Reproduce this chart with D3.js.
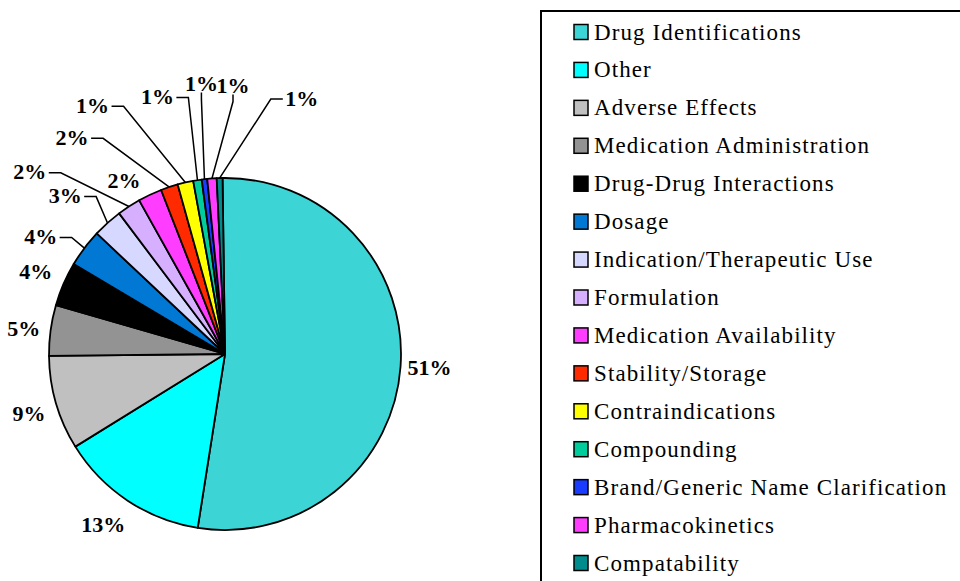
<!DOCTYPE html>
<html>
<head>
<meta charset="utf-8">
<script src="https://cdn.jsdelivr.net/npm/d3@7"></script>
<style>
  body { margin: 0; background: #fff; }
  svg { display: block; }
  .pct { font-family: "Liberation Serif", "Times New Roman", serif; font-weight: bold; font-size: 22px; }
  .leg { font-family: "Liberation Serif", "Times New Roman", serif; font-size: 23px; letter-spacing: 1.1px; }
</style>
</head>
<body>
<svg id="chart" width="960" height="581"></svg>
<script>
var categories = ["Drug Identifications", "Other", "Adverse Effects", "Medication Administration",
  "Drug-Drug Interactions", "Dosage", "Indication/Therapeutic Use", "Formulation",
  "Medication Availability", "Stability/Storage", "Contraindications", "Compounding",
  "Brand/Generic Name Clarification", "Pharmacokinetics", "Compatability"];
// slice sizes (share of the circle, %)
var shares = [52.7, 13.7, 8.65, 4.65, 4.06, 3.47, 2.72, 2.17, 2.19, 1.58, 1.44, 0.78, 0.5, 0.86, 0.53];
// percentages printed next to the slices
var pctLabels = ["51%", "13%", "9%", "5%", "4%", "4%", "3%", "2%", "2%", "2%", "1%", "1%", "1%", "1%", "1%"];
var colors = ["#3cd4d4", "#00ffff", "#bfc0bf", "#939393", "#000000", "#0078d4", "#d7d8ff", "#d6b0ff",
  "#ff3dff", "#ff2a00", "#ffff00", "#00cc9c", "#1a3cff", "#ff3dff", "#008c8c"];

// label nudges from the default spot [dx, dy, leader line?]
var labelShift = [[3, -1, 0], [-10, 2, 0], [-2, 3, 0], [-1, 2, 0], [-4, -2, 0], [-23, 4, 1],
  [-25, -8, 1], [-85, -13, 1], [-15, 9, 0], [-89, -25, 1], [-87, -52, 1], [-36, -58, 1],
  [0, -70, 1], [23, -67, 1], [83, -54, 1]];

var svg = d3.select("#chart");
var cx = 225, cy = 354, r = 176;

var pie = d3.pie().sort(null).value(function(d) { return d; })
  .startAngle(-0.8 * Math.PI / 180)
  .endAngle(2 * Math.PI - 0.8 * Math.PI / 180);
var arcs = pie(shares);
var arc = d3.arc().innerRadius(0).outerRadius(r);

var pieG = svg.append("g").attr("transform", "translate(" + cx + "," + cy + ")");

pieG.selectAll("path")
  .data(arcs)
  .enter().append("path")
    .attr("d", arc)
    .attr("fill", function(d, i) { return colors[i]; })
    .attr("stroke", "#000")
    .attr("stroke-width", 1.8)
    .attr("stroke-linejoin", "round");

function polar(a, rad) { return [rad * Math.sin(a), -rad * Math.cos(a)]; }

var labels = arcs.map(function(d, i) {
  var mid = (d.startAngle + d.endAngle) / 2;
  var p = polar(mid, r + 26);
  return { x: p[0] + labelShift[i][0], y: p[1] + labelShift[i][1], anchor: polar(mid, r), leader: labelShift[i][2], text: pctLabels[i] };
});

/* leader lines */
pieG.selectAll("polyline")
  .data(labels.filter(function(d) { return d.leader; }))
  .enter().append("polyline")
    .attr("fill", "none")
    .attr("stroke", "#000")
    .attr("stroke-width", 1.5)
    .attr("points", function(d) {
      var hw = 16, ax = d.anchor[0], ay = d.anchor[1], s, e;
      if (Math.abs(ax - d.x) < hw + 10) {
        s = [d.x, d.y + 9]; e = [d.x, d.y + 16];
      } else {
        var side = ax > d.x ? 1 : -1;
        s = [d.x + side * (hw + 3), d.y + 1]; e = [s[0] + side * 12, d.y + 1];
      }
      return [s, e, [ax, ay]].map(function(p) { return p.join(","); }).join(" ");
    });

pieG.selectAll("text")
  .data(labels)
  .enter().append("text")
    .attr("class", "pct")
    .attr("x", function(d) { return d.x; })
    .attr("y", function(d) { return d.y + 7.5; })
    .attr("text-anchor", "middle")
    .text(function(d) { return d.text; });

/* legend */
var legG = svg.append("g");
legG.append("rect")
  .attr("x", 541).attr("y", 11).attr("width", 500).attr("height", 700)
  .attr("fill", "#fff").attr("stroke", "#000").attr("stroke-width", 2);

var rowY = d3.scalePoint().domain(categories).range([32, 563]);

var rows = legG.selectAll("g.row")
  .data(categories)
  .enter().append("g")
    .attr("class", "row")
    .attr("transform", function(d) { return "translate(0," + rowY(d) + ")"; });
rows.append("rect")
  .attr("x", 574).attr("y", -7.5).attr("width", 14).attr("height", 15)
  .attr("fill", function(d, i) { return colors[i]; })
  .attr("stroke", "#000").attr("stroke-width", 1.5);
rows.append("text")
  .attr("class", "leg")
  .attr("x", 594).attr("y", 7.5)
  .text(function(d) { return d; });
</script>
</body>
</html>
